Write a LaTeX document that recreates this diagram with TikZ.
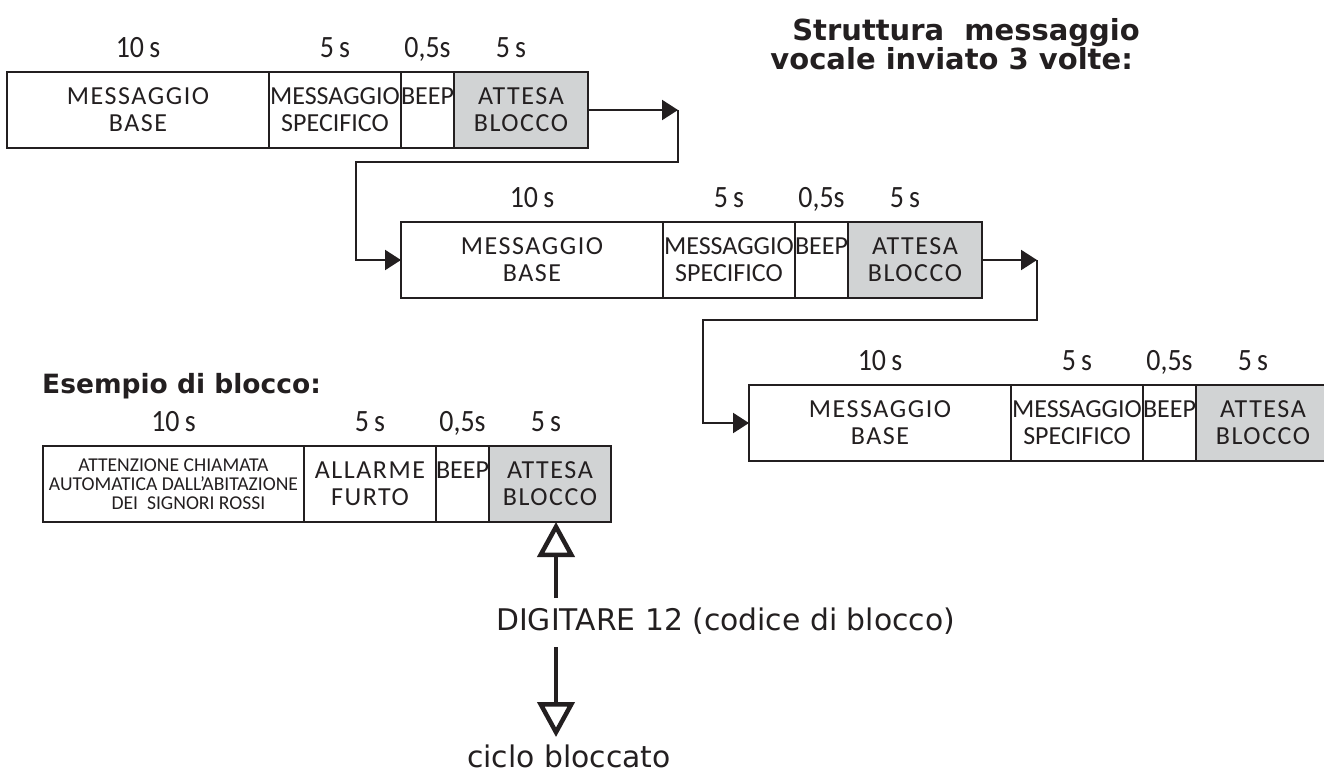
\documentclass[tikz,border=0pt]{standalone}
\usepackage{fontspec}
\setmainfont{DejaVu Sans}
\newfontfamily\cellfont{Carlito}[LetterSpace=6]
\newfontfamily\narrowfont{Carlito}
\newfontfamily\durfont{Carlito}[FakeStretch=0.9]
\usetikzlibrary{arrows.meta}
\definecolor{ink}{RGB}{35,31,32}
\definecolor{shade}{RGB}{209,211,212}

% one message sequence: name prefix, left x, top y
\newcommand\msgrow[3]{%
  \node[seg, minimum width=262pt] (#1b) at (#2,#3) {MESSAGGIO\\BASE};
  \node[seg, tightcell, minimum width=132pt] (#1s) at (#1b.north east) {MESSAGGIO\\SPECIFICO};
  \node[seg, tightcell, minimum width=52pt] (#1p) at (#1s.north east) {BEEP\\\phantom{B}};
  \node[waitseg, minimum width=134pt] (#1g) at (#1p.north east) {ATTESA\\BLOCCO};
  \node[dur] at ([yshift=15pt]#1b.north) {10\,s};
  \node[dur] at ([yshift=15pt]#1s.north) {5\,s};
  \node[dur] at ([yshift=15pt]#1p.north) {0,5s};
  \node[dur] at ([yshift=15pt,xshift=-10pt]#1g.north) {5\,s};
}

\begin{document}
\begin{tikzpicture}[x=1pt,y=-1pt,
  seg/.style={draw=ink, line width=2.4pt, minimum height=76pt, inner sep=0pt,
    outer sep=0pt, anchor=north west, align=center, text=ink,
    font=\cellfont\fontsize{26}{27}\selectfont},
  tightcell/.style={font=\narrowfont\fontsize{26}{27}\selectfont},
  waitseg/.style={seg, fill=shade},
  dur/.style={text=ink, font=\durfont\fontsize{31}{31}\selectfont,
    anchor=base, inner sep=0pt},
  heading/.style={text=ink, inner sep=0pt, font=\bfseries\fontsize{29}{30}\selectfont},
  plain/.style={text=ink, inner sep=0pt, anchor=base west, font=\fontsize{29.8}{30}\selectfont},
  conn/.style={draw=ink, line width=2.2pt},
  tipped/.style={conn, -{Triangle[length=16pt,width=20pt]}},
  hollow/.style={draw=ink, line width=4.5pt, -{Triangle[open,length=35pt,width=37pt]}}
]
\useasboundingbox (0,0) rectangle (1324,774);

% title
\node[heading, anchor=base east] (ttl1) at (1140,40) {Struttura\ \ messaggio};
\node[heading, anchor=base east] (ttl2) at (1133,69) {vocale inviato 3 volte:};

% the three repetitions
\msgrow{ra}{7}{72}
\msgrow{rb}{401}{222}
\msgrow{rc}{749}{385}

% links between repetitions
\coordinate (t1) at (678,110);
\coordinate (k1) at (356,162);
\draw[tipped] (rag.east) -- (t1);
\draw[tipped] (t1) |- (k1) |- (rbb.west);

\coordinate (t2) at (1037,260);
\coordinate (k2) at (703,320);
\draw[tipped] (rbg.east) -- (t2);
\draw[tipped] (t2) |- (k2) |- (rcb.west);

% example
\node[heading, anchor=base west, font=\bfseries\fontsize{26.5}{30}\selectfont] (ex) at (42,393) {Esempio di blocco:};
\node[seg, minimum width=261pt, font=\narrowfont\fontsize{19.6}{19}\selectfont] (eb) at (43,446)
  {ATTENZIONE CHIAMATA\\AUTOMATICA DALL’ABITAZIONE\\\hspace*{30pt}DEI\ \ SIGNORI ROSSI};
\node[seg, minimum width=132pt] (es) at (eb.north east) {ALLARME\\FURTO};
\node[seg, tightcell, minimum width=52pt] (ep) at (es.north east) {BEEP\\\phantom{B}};
\node[waitseg, minimum width=122pt] (eg) at (ep.north east) {ATTESA\\BLOCCO};
\node[dur] at ([yshift=15pt]eb.north) {10\,s};
\node[dur] at ([yshift=15pt]es.north) {5\,s};
\node[dur] at ([yshift=15pt]ep.north) {0,5s};
\node[dur] at ([yshift=15pt,xshift=-4pt]eg.north) {5\,s};

% unlock code
\node[plain] (dig) at (496,630) {DIGITARE 12 (codice di blocco)};
\node[plain] (ciclo) at (467,767) {ciclo bloccato};
\coordinate (up1) at (556,598);
\draw[hollow] (up1) -- (eg.south -| up1);
\coordinate (dn1) at (556,647);
\coordinate (dn2) at (556,737);
\draw[hollow] (dn1) -- (dn2);
\end{tikzpicture}
\end{document}
